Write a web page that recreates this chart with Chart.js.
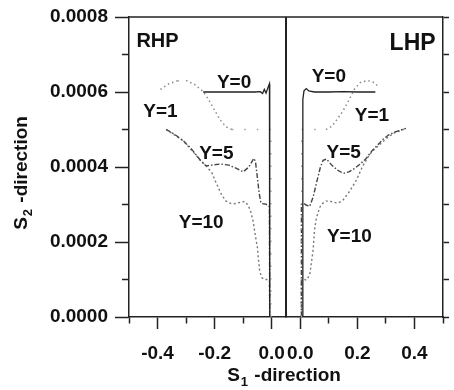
<!DOCTYPE html>
<html>
<head>
<meta charset="utf-8">
<script src="https://cdn.jsdelivr.net/npm/chart.js@4.4.1/dist/chart.umd.min.js"></script>
<style>
  html, body { margin: 0; padding: 0; background: #fff; }
  #wrap { width: 454px; height: 390px; position: relative; }
</style>
</head>
<body>
<div id="wrap"><canvas id="chart"></canvas></div>
<script>
// ticks and their labels (empty label = minor tick)
const xLeftTicks = [-0.5, -0.4, -0.3, -0.2, -0.1, 0.0];
const xLeftLabels = ['', '-0.4', '', '-0.2', '', '0.0'];
const xRightTicks = [0.0, 0.1, 0.2, 0.3, 0.4, 0.5];
const xRightLabels = ['0.0', '', '0.2', '', '0.4', ''];
const yTicks = [0, 0.0001, 0.0002, 0.0003, 0.0004, 0.0005, 0.0006, 0.0007, 0.0008];
const yLabels = ['0.0000', '', '0.0002', '', '0.0004', '', '0.0006', '', '0.0008'];

// RHP panel (left)
const rhpY0x = [-0.24, -0.18, -0.12, -0.06, -0.04, -0.032, -0.026, -0.02, -0.012, -0.008, -0.007];
const rhpY0y = [0.0006, 0.0006, 0.0006, 0.0006, 0.000601, 0.000596, 0.000607, 0.000597, 0.000614, 0.000622, 0];
const rhpY1x = [-0.39, -0.36, -0.33, -0.3, -0.27, -0.24, -0.22, -0.2, -0.18, -0.16, -0.14, -0.1, -0.06, -0.03, -0.003, -0.003];
const rhpY1y = [0.000607, 0.000622, 0.00063, 0.000631, 0.00062, 0.000601, 0.000578, 0.000551, 0.000525, 0.000507, 0.0005, 0.0005, 0.0005, 0.0005, 0.0005, 0];
const rhpY5x = [-0.37, -0.34, -0.31, -0.28, -0.25, -0.23, -0.21, -0.18, -0.15, -0.12, -0.1, -0.08, -0.063, -0.057, -0.05, -0.044, -0.038, -0.03, -0.02, -0.012, -0.008, -0.007];
const rhpY5y = [0.0005, 0.000487, 0.00047, 0.000447, 0.000418, 0.000403, 0.000405, 0.000408, 0.000405, 0.000395, 0.000387, 0.0004, 0.000423, 0.000415, 0.00037, 0.00033, 0.000305, 0.000302, 0.000301, 0.000296, 0.000294, 0];
const rhpY10x = [-0.37, -0.31, -0.25, -0.23, -0.21, -0.195, -0.175, -0.16, -0.145, -0.13, -0.11, -0.095, -0.085, -0.075, -0.065, -0.057, -0.05, -0.046, -0.042, -0.035, -0.025, -0.015, -0.008, -0.007];
const rhpY10y = [0.0005, 0.00047, 0.000418, 0.000403, 0.000385, 0.000358, 0.000325, 0.000309, 0.000303, 0.000302, 0.000306, 0.000308, 0.0003, 0.000285, 0.000255, 0.000215, 0.000185, 0.00015, 0.000122, 0.000105, 0.0001, 0.0001, 0.000098, 0];

// LHP panel (right)
const lhpY0x = [0.009, 0.009, 0.013, 0.021, 0.03, 0.05, 0.1, 0.15, 0.2, 0.263];
const lhpY0y = [0, 0.00058, 0.000603, 0.000609, 0.000603, 0.0006, 0.0006, 0.000601, 0.0006, 0.0006];
const lhpY1x = [0.005, 0.005, 0.02, 0.05, 0.09, 0.11, 0.13, 0.15, 0.17, 0.19, 0.21, 0.235, 0.26, 0.275];
const lhpY1y = [0, 0.0005, 0.0005, 0.0005, 0.0005, 0.000508, 0.000528, 0.00055, 0.000578, 0.000608, 0.000625, 0.000631, 0.000625, 0.000613];
const lhpY5x = [0.004, 0.004, 0.012, 0.022, 0.033, 0.045, 0.057, 0.07, 0.08, 0.092, 0.11, 0.13, 0.151, 0.17, 0.19, 0.21, 0.23, 0.251, 0.27, 0.29, 0.31, 0.33, 0.35, 0.37];
const lhpY5y = [0, 0.0003, 0.000303, 0.000298, 0.000295, 0.00032, 0.000358, 0.000398, 0.000418, 0.000421, 0.000405, 0.000392, 0.000383, 0.000387, 0.000396, 0.000408, 0.000422, 0.000443, 0.000458, 0.000474, 0.000486, 0.000493, 0.000498, 0.000503];
const lhpY10x = [0.004, 0.004, 0.012, 0.021, 0.033, 0.04, 0.045, 0.05, 0.056, 0.062, 0.07, 0.08, 0.09, 0.104, 0.12, 0.133, 0.15, 0.169, 0.185, 0.198, 0.21, 0.222, 0.236, 0.251, 0.27, 0.29, 0.31, 0.33, 0.35, 0.37];
const lhpY10y = [0, 0.0001, 0.000101, 0.0000985, 0.000112, 0.00015, 0.000179, 0.000233, 0.000262, 0.000278, 0.000295, 0.000304, 0.000309, 0.000309, 0.000305, 0.000304, 0.000312, 0.000331, 0.00035, 0.000367, 0.000388, 0.000407, 0.000425, 0.000441, 0.000454, 0.000468, 0.000481, 0.000491, 0.000497, 0.000503];

// text placed in data coordinates
const panelTexts = [
    { text: 'RHP', axis: 'xL', x: -0.474, y: 0.000721, size: 20, align: 'left' },
    { text: 'LHP', axis: 'xR', x: 0.313, y: 0.000712, size: 23, align: 'left' },
    { text: 'Y=0', axis: 'xL', x: -0.132, y: 0.000611, size: 19, align: 'center' },
    { text: 'Y=1', axis: 'xL', x: -0.39, y: 0.000533, size: 19, align: 'center' },
    { text: 'Y=5', axis: 'xL', x: -0.194, y: 0.000421, size: 19, align: 'center' },
    { text: 'Y=10', axis: 'xL', x: -0.247, y: 0.000238, size: 19, align: 'center' },
    { text: 'Y=0', axis: 'xR', x: 0.1, y: 0.000627, size: 19, align: 'center' },
    { text: 'Y=1', axis: 'xR', x: 0.251, y: 0.000524, size: 19, align: 'center' },
    { text: 'Y=5', axis: 'xR', x: 0.152, y: 0.000425, size: 19, align: 'center' },
    { text: 'Y=10', axis: 'xR', x: 0.172, y: 0.000201, size: 19, align: 'center' }
];

const FONT = "'Liberation Sans', Arial, sans-serif";
const INK = '#111';

function pts(xs, ys) {
    return xs.map((x, i) => ({ x: x, y: ys[i] }));
}

// Y=1 shows only faint, widely spaced dots on its flat and vertical stretches
function isStraight(ctx) {
    const dx = Math.abs(ctx.p1.x - ctx.p0.x);
    const dy = Math.abs(ctx.p1.y - ctx.p0.y);
    return dx < 1 || dy < 1;
}

const styles = {
    y0: { borderColor: '#222', borderDash: [], borderWidth: 1.3 },
    y1: {
        borderColor: '#8a8a8a', borderDash: [1.5, 3], borderWidth: 1.5,
        segment: {
            borderDash: ctx => isStraight(ctx) ? [1.5, 11] : undefined,
            borderColor: ctx => isStraight(ctx) ? '#a5a5a5' : undefined
        }
    },
    y5: { borderColor: '#444', borderDash: [5, 2, 1.5, 2], borderWidth: 1.4 },
    y10: { borderColor: '#777', borderDash: [2, 2.5], borderWidth: 1.4 }
};

function series(label, xs, ys, axis, style) {
    return Object.assign({
        label: label,
        data: pts(xs, ys),
        xAxisID: axis,
        yAxisID: 'y',
        pointRadius: 0,
        tension: 0,
        fill: false
    }, style);
}

const datasets = [
    series('RHP Y=0', rhpY0x, rhpY0y, 'xL', styles.y0),
    series('RHP Y=1', rhpY1x, rhpY1y, 'xL', styles.y1),
    series('RHP Y=5', rhpY5x, rhpY5y, 'xL', styles.y5),
    series('RHP Y=10', rhpY10x, rhpY10y, 'xL', styles.y10),
    series('LHP Y=0', lhpY0x, lhpY0y, 'xR', styles.y0),
    series('LHP Y=1', lhpY1x, lhpY1y, 'xR', styles.y1),
    series('LHP Y=5', lhpY5x, lhpY5y, 'xR', styles.y5),
    series('LHP Y=10', lhpY10x, lhpY10y, 'xR', styles.y10)
];

// x axis for one panel; both share the 'panels' stack so they sit side by side
function xAxis(ticks, labels, min, max) {
    return {
        type: 'linear',
        position: 'bottom',
        stack: 'panels',
        stackWeight: 1,
        min: min,
        max: max,
        afterBuildTicks: s => { s.ticks = ticks.map(v => ({ value: v })); },
        afterFit: s => { s.height = 73; s.paddingLeft = 0; s.paddingRight = 0; },
        border: { display: true, color: '#222', width: 1.5 },
        grid: {
            drawOnChartArea: false,
            drawTicks: true,
            tickLength: 12,
            tickColor: '#222',
            tickWidth: 1.5,
            tickBorderDash: c => labels[c.index] ? [] : [6, 100]
        },
        ticks: {
            autoSkip: false,
            maxRotation: 0,
            padding: 13,
            color: INK,
            font: { family: FONT, size: 19, weight: 'bold' },
            callback: (v, i) => labels[i]
        }
    };
}

const framePlugin = {
    id: 'frame',
    afterDraw(chart) {
        const { ctx, chartArea: a, scales } = chart;
        ctx.save();
        ctx.strokeStyle = '#222';
        ctx.lineWidth = 1.5;
        ctx.beginPath();
        ctx.moveTo(a.left, a.top);
        ctx.lineTo(a.right, a.top);
        ctx.stroke();
        ctx.lineWidth = 2;
        ctx.beginPath();
        const mid = scales.xL.right;
        ctx.moveTo(mid, a.top);
        ctx.lineTo(mid, a.bottom);
        ctx.stroke();

        // panel and curve labels
        ctx.fillStyle = INK;
        ctx.textBaseline = 'alphabetic';
        panelTexts.forEach(t => {
            ctx.font = 'bold ' + t.size + 'px ' + FONT;
            ctx.textAlign = t.align;
            ctx.fillText(t.text, scales[t.axis].getPixelForValue(t.x), scales.y.getPixelForValue(t.y));
        });

        // axis titles with subscripts
        drawTitle(ctx, 'S', '2', ' -direction', 27, 173, true);
        drawTitle(ctx, 'S', '1', ' -direction', 284, 381, false);
        ctx.restore();
    }
};

function drawTitle(ctx, head, sub, tail, cx, cy, vertical) {
    const big = 'bold 19px ' + FONT;
    const small = 'bold 13px ' + FONT;
    ctx.save();
    ctx.font = big;
    const wHead = ctx.measureText(head).width;
    const wTail = ctx.measureText(tail).width;
    ctx.font = small;
    const wSub = ctx.measureText(sub).width + 2;
    const total = wHead + wSub + wTail;
    ctx.translate(cx, cy);
    if (vertical) ctx.rotate(-Math.PI / 2);
    ctx.textAlign = 'left';
    ctx.textBaseline = 'alphabetic';
    let x = -total / 2;
    ctx.font = big;
    ctx.fillText(head, x, 0);
    x += wHead + 1;
    ctx.font = small;
    ctx.fillText(sub, x, 5);
    x += wSub - 1;
    ctx.font = big;
    ctx.fillText(tail, x, 0);
    ctx.restore();
}

new Chart(document.getElementById('chart'), {
    type: 'line',
    data: { datasets: datasets },
    plugins: [framePlugin],
    options: {
        responsive: true,
        maintainAspectRatio: false,
        animation: false,
        layout: { padding: { top: 17, left: 0, right: 0, bottom: 0 } },
        plugins: { legend: { display: false }, tooltip: { enabled: false } },
        scales: {
            xL: xAxis(xLeftTicks, xLeftLabels, -0.5, 0.05),
            xR: xAxis(xRightTicks, xRightLabels, -0.05, 0.5),
            y: {
                type: 'linear',
                position: 'left',
                min: 0,
                max: 0.0008,
                afterBuildTicks: s => { s.ticks = yTicks.map(v => ({ value: v })); },
                afterFit: s => { s.width = 129; s.paddingTop = 0; s.paddingBottom = 0; },
                border: { display: true, color: '#222', width: 1.5 },
                grid: {
                    drawOnChartArea: false,
                    drawTicks: true,
                    tickLength: 14,
                    tickColor: '#222',
                    tickWidth: 1.5,
                    tickBorderDash: c => yLabels[c.index] ? [] : [0, 7, 7, 100]
                },
                ticks: {
                    autoSkip: false,
                    padding: 7,
                    color: INK,
                    font: { family: FONT, size: 19, weight: 'bold' },
                    callback: (v, i) => yLabels[i]
                }
            },
            y2: {
                type: 'linear',
                position: 'right',
                min: 0,
                max: 0.0008,
                afterBuildTicks: s => { s.ticks = yTicks.map(v => ({ value: v })); },
                afterFit: s => { s.width = 11; s.paddingTop = 0; s.paddingBottom = 0; },
                border: { display: true, color: '#222', width: 1.5 },
                grid: {
                    drawOnChartArea: false,
                    drawTicks: true,
                    tickLength: 6,
                    tickColor: '#222',
                    tickWidth: 1.5
                },
                ticks: { display: false }
            }
        }
    }
});
</script>
</body>
</html>
